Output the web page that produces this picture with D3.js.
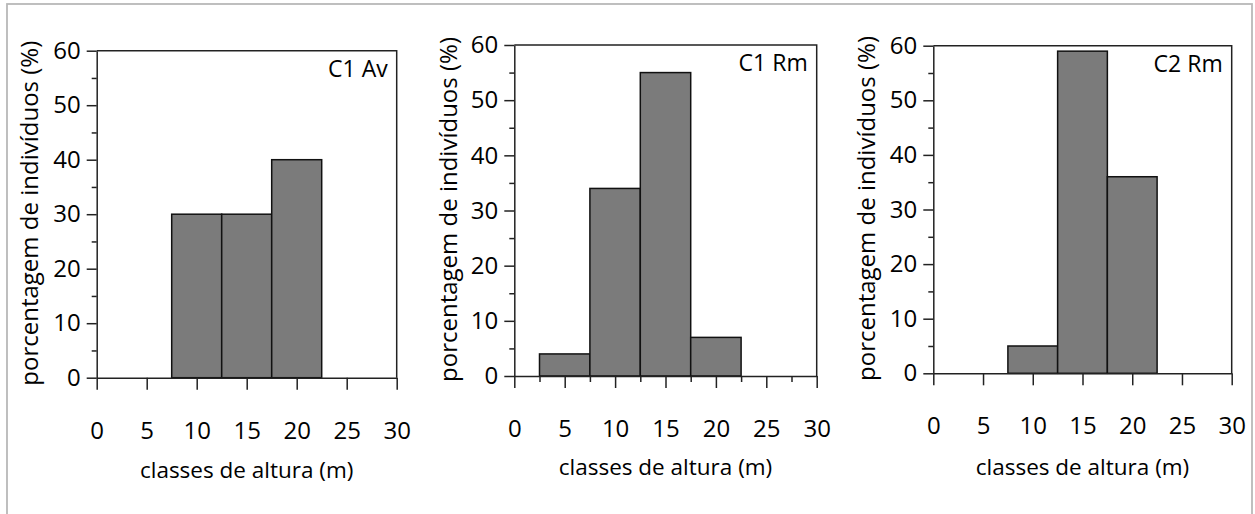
<!DOCTYPE html>
<html>
<head>
<meta charset="utf-8">
<script src="https://cdn.jsdelivr.net/npm/d3@7"></script>
<style>
  body { margin: 0; background: #fff; }
  text { font-family: "Open Sans", Lato, sans-serif; fill: #000; }
</style>
</head>
<body>
<svg id="chart" width="1255" height="514"></svg>
<script>
// height classes (class midpoints, m) and percentage of individuals
const classMid = [5, 10, 15, 20]
const c1Av = [0, 30, 30, 40]
const c1Rm = [4, 34, 55, 7]
const c2Rm = [0, 5, 59, 36]
const xTicks = [0, 5, 10, 15, 20, 25, 30]
const yTicks = [0, 10, 20, 30, 40, 50, 60]
const yMinor = [5, 15, 25, 35, 45, 55]
const xMinor = [2.5, 7.5, 12.5, 17.5, 22.5, 27.5]
const panelNames = ['C1 Av', 'C1 Rm', 'C2 Rm']
const yTitle = 'porcentagem de indivíduos (%)'
const xTitle = 'classes de altura (m)'

const svg = d3.select('#chart')

svg.append('rect')
  .attr('x', 7).attr('y', 4)
  .attr('width', 1245).attr('height', 530)
  .attr('fill', '#fff')
  .attr('stroke', '#b8b8b8')
  .attr('stroke-width', 1.8)

const panels = [
  {name: panelNames[0], data: c1Av, x0: 96.7, x1: 396.7, top: 50.7, bottom: 377.7, titleX: 30, minorX: false, labY: 470},
  {name: panelNames[1], data: c1Rm, x0: 514.3, x1: 816.7, top: 45, bottom: 376, titleX: 449, minorX: true, labY: 467},
  {name: panelNames[2], data: c2Rm, x0: 933.3, x1: 1231.7, top: 45.7, bottom: 373.3, titleX: 867, minorX: false, labY: 467}
]

const binW = 5

panels.forEach(p => {
  const x = d3.scaleLinear().domain([0, 30]).range([p.x0, p.x1])
  const y = d3.scaleLinear().domain([0, 60]).range([p.bottom, p.top])
  const g = svg.append('g')

  // bars
  g.selectAll('rect.bar')
    .data(classMid.map((m, i) => ({m: m, v: p.data[i]})).filter(d => d.v > 0))
    .enter()
    .append('rect')
    .attr('class', 'bar')
    .attr('x', d => x(d.m - binW / 2))
    .attr('width', d => x(d.m + binW / 2) - x(d.m - binW / 2))
    .attr('y', d => y(d.v))
    .attr('height', d => y(0) - y(d.v))
    .attr('fill', '#7b7b7b')
    .attr('stroke', '#111')
    .attr('stroke-width', 1.5)

  // frame top and right
  g.append('path')
    .attr('d', 'M' + x(0) + ',' + y(60) + 'H' + x(30) + 'V' + y(0))
    .attr('fill', 'none')
    .attr('stroke', '#222')
    .attr('stroke-width', 1.5)

  const yAxis = d3.axisLeft(y).tickValues(yTicks).tickSize(10).tickPadding(6).tickSizeOuter(0)
  const ya = g.append('g')
    .attr('transform', 'translate(' + x(0) + ',0)')
    .call(yAxis)
  ya.selectAll('text').style('font-size', '24px').attr('font-family', null)

  const yAxisMinor = d3.axisLeft(y).tickValues(yMinor).tickSize(5).tickFormat('').tickSizeOuter(0)
  g.append('g')
    .attr('transform', 'translate(' + x(0) + ',0)')
    .call(yAxisMinor)
    .select('.domain').remove()

  const xAxis = d3.axisBottom(x).tickValues(xTicks).tickSize(12).tickPadding(32).tickSizeOuter(0)
  const xa = g.append('g')
    .attr('transform', 'translate(0,' + y(0) + ')')
    .call(xAxis)
  xa.selectAll('text').style('font-size', '24px').attr('font-family', null)

  if (p.minorX) {
    g.append('g')
      .attr('transform', 'translate(0,' + y(0) + ')')
      .call(d3.axisBottom(x).tickValues(xMinor).tickSize(6).tickFormat('').tickSizeOuter(0))
      .select('.domain').remove()
  }

  g.selectAll('.domain, .tick line').attr('stroke', '#222').attr('stroke-width', 1.5)

  g.append('text')
    .attr('x', x(30) - 9)
    .attr('y', y(60) + 26)
    .attr('text-anchor', 'end')
    .style('font-size', '23px')
    .text(p.name)

  g.append('text')
    .attr('transform', 'translate(' + p.titleX + ',' + (y(30) - 1) + ') rotate(-90)')
    .attr('text-anchor', 'middle')
    .attr('dy', '0.35em')
    .style('font-size', '24px')
    .text(yTitle)

  g.append('text')
    .attr('x', (x(0) + x(30)) / 2)
    .attr('y', p.labY)
    .attr('text-anchor', 'middle')
    .attr('dy', '0.35em')
    .style('font-size', '22.5px')
    .text(xTitle)
})
</script>
</body>
</html>
